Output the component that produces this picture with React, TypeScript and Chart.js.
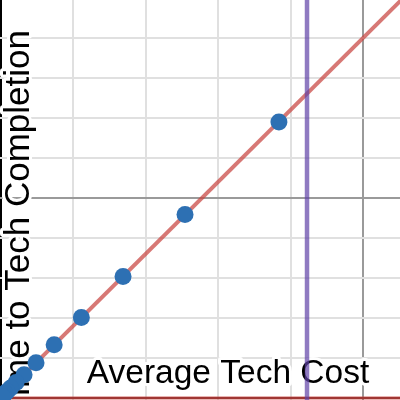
import React, { useEffect, useRef } from "react";
import { Chart, registerables } from "chart.js";

Chart.register(...registerables);

// Observed data (Average Tech Cost vs Time to Tech Completion)
const costValues = [76.8, 50.9, 33.8, 22.3, 14.8, 9.8, 6.5, 4.3, 2.8, 1.8, 1.2, 0.8, 0.5];
const timeValues = [69, 45.9, 30.4, 20.1, 13.3, 8.8, 5.8, 3.9, 2.5, 1.6, 1.1, 0.7, 0.4];

// Fit line endpoints
const fitX = [0, 112];
const fitY = [0, 100.8];

// Vertical marker
const markerX = 84.55;
const markerY = [-1, 101];

// Baseline
const baseX = [-1, 112];
const baseY = [0, 0];

// Axis windows and grid lines
const xRange = [-0.138, 110.2];
const yRange = [-0.5, 99.5];
const xGrid = [0, 20, 40, 60, 80, 100];
const yGrid = [0, 10, 20, 30, 40, 50, 60, 70, 80, 90];
const xMajor = 100;
const yMajor = 50;

const xTitle = "Average Tech Cost";
const yTitle = "Time to Tech Completion";

function gridColor(major: number) {
  return (ctx: any) => {
    const v = ctx.tick ? ctx.tick.value : NaN;
    if (Math.abs(v) < 1e-9) return "#000000";
    const r = v / major;
    if (Math.abs(r - Math.round(r)) < 1e-6) return "#9a9a9a";
    return "#e0e0e0";
  };
}

const labelPlugin = {
  id: "axisLabels",
  beforeDatasetsDraw(chart: any) {
    const ctx = chart.ctx as CanvasRenderingContext2D;
    ctx.save();
    ctx.lineJoin = "round";
    ctx.textBaseline = "alphabetic";
    ctx.strokeStyle = "#ffffff";
    ctx.lineWidth = 6;
    ctx.fillStyle = "#000000";
    // x label
    ctx.font = '33.5px "Liberation Sans", Arial, sans-serif';
    ctx.textAlign = "center";
    ctx.strokeText(xTitle, 228, 383);
    ctx.fillText(xTitle, 228, 383);
    // y label
    ctx.font = '35px "Liberation Sans", Arial, sans-serif';
    ctx.textAlign = "right";
    ctx.translate(29, 30);
    ctx.rotate(-Math.PI / 2);
    ctx.strokeText(yTitle, 0, 0);
    ctx.fillText(yTitle, 0, 0);
    ctx.restore();
  },
};

export default function App() {
  const ref = useRef<HTMLCanvasElement | null>(null);

  useEffect(() => {
    if (!ref.current) return;
    const chart = new Chart(ref.current, {
      type: "scatter",
      data: {
        datasets: [
          {
            label: "points",
            data: costValues.map((x, i) => ({ x, y: timeValues[i] })),
            backgroundColor: "#2d70b3",
            borderColor: "#2d70b3",
            pointRadius: 8.5,
            borderWidth: 0,
            showLine: false,
            order: 0,
          },
          {
            label: "marker",
            data: markerY.map((y) => ({ x: markerX, y })),
            borderColor: "rgba(96,66,166,0.7)",
            borderWidth: 4.5,
            pointRadius: 0,
            showLine: true,
            order: 1,
          },
          {
            label: "fit",
            data: fitX.map((x, i) => ({ x, y: fitY[i] })),
            borderColor: "rgba(199,68,64,0.72)",
            borderWidth: 4,
            pointRadius: 0,
            showLine: true,
            order: 2,
          },
          {
            label: "base",
            data: baseX.map((x, i) => ({ x, y: baseY[i] })),
            borderColor: "rgba(199,68,64,0.8)",
            borderWidth: 3,
            pointRadius: 0,
            showLine: true,
            order: 3,
          },
        ],
      },
      options: {
        animation: false,
        responsive: false,
        layout: { padding: 0, autoPadding: false },
        plugins: { legend: { display: false }, tooltip: { enabled: false } },
        scales: {
          x: {
            type: "linear",
            min: xRange[0],
            max: xRange[1],
            afterBuildTicks: (scale: any) => {
              scale.ticks = xGrid.map((value) => ({ value }));
            },
            ticks: { display: false },
            grid: { color: gridColor(xMajor), lineWidth: 2, drawTicks: false },
            border: { display: false },
          },
          y: {
            type: "linear",
            min: yRange[0],
            max: yRange[1],
            afterBuildTicks: (scale: any) => {
              scale.ticks = yGrid.map((value) => ({ value }));
            },
            ticks: { display: false },
            grid: { color: gridColor(yMajor), lineWidth: 2, drawTicks: false },
            border: { display: false },
          },
        },
      },
      plugins: [labelPlugin],
    });
    return () => chart.destroy();
  }, []);

  return (
    <div style={{ position: "fixed", left: 0, top: 0, width: 400, height: 400, background: "#fff" }}>
      <canvas ref={ref} width={400} height={400} style={{ display: "block" }} />
    </div>
  );
}
